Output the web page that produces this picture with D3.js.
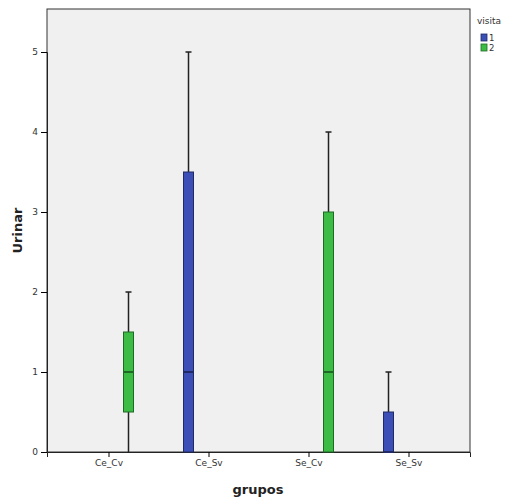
<!DOCTYPE html>
<html>
<head>
<meta charset="utf-8">
<script src="https://cdn.jsdelivr.net/npm/d3@7"></script>
<style>
  body { margin: 0; background: #fff; }
  text { font-family: "DejaVu Sans", sans-serif; }
</style>
</head>
<body>
<div id="chart"></div>
<script>
// groups on the x axis and the visit series
const grupos = ['Ce_Cv', 'Ce_Sv', 'Se_Cv', 'Se_Sv'];
const visitas = ['1', '2'];
const yTicks = [0, 1, 2, 3, 4, 5];

// box stats per group: [min, q1, median, q3, max]
const boxGrupo = ['Ce_Cv', 'Ce_Sv', 'Se_Cv', 'Se_Sv'];
const boxVisita = ['2', '1', '2', '1'];
const boxMin = [0, 0, 0, 0];
const boxQ1 = [0.5, 0, 0, 0];
const boxMed = [1, 1, 1, 0];
const boxQ3 = [1.5, 3.5, 3, 0.5];
const boxMax = [2, 5, 4, 1];

const W = 510, H = 502;
const plot = { left: 47, right: 470, top: 9, bottom: 452 };

const fill = { '1': '#3b4fb6', '2': '#3cbb45' };
const edge = { '1': '#1f2a66', '2': '#1d6a25' };

const svg = d3.select('#chart').append('svg')
  .attr('width', W).attr('height', H);

const x = d3.scalePoint().domain(grupos)
  .range([plot.left, plot.right]).padding(0.615);
const xOff = d3.scalePoint().domain(visitas).range([-20, 20]);
const y = d3.scaleLinear().domain([0, 5]).range([plot.bottom, plot.bottom - 400]);

// plot background
svg.append('rect')
  .attr('x', plot.left).attr('y', plot.top)
  .attr('width', plot.right - plot.left).attr('height', plot.bottom - plot.top)
  .attr('fill', '#f0f0f0').attr('stroke', '#333').attr('stroke-width', 1);

// axes
const yAxis = svg.append('g')
  .attr('transform', `translate(${plot.left},0)`)
  .call(d3.axisLeft(y).tickValues(yTicks).tickFormat(d3.format('d')).tickSize(6).tickPadding(3));
yAxis.select('.domain').attr('stroke', '#222');
yAxis.selectAll('text').attr('font-size', 9).attr('fill', '#333');

const xAxis = svg.append('g')
  .attr('transform', `translate(0,${plot.bottom})`)
  .call(d3.axisBottom(x).tickSize(5).tickPadding(3));
xAxis.select('.domain').attr('stroke', '#222');
xAxis.selectAll('text').attr('font-size', 9).attr('fill', '#333');

// boxes
const boxes = boxGrupo.map((g, i) => ({
  g, v: boxVisita[i], min: boxMin[i], q1: boxQ1[i], med: boxMed[i], q3: boxQ3[i], max: boxMax[i]
}));
const bw = 10;

const bg = svg.append('g').selectAll('g').data(boxes).join('g')
  .attr('transform', d => `translate(${x(d.g) + xOff(d.v)},0)`);

// whiskers
bg.append('line')
  .attr('x1', 0).attr('x2', 0)
  .attr('y1', d => y(d.min)).attr('y2', d => y(d.max))
  .attr('stroke', '#222').attr('stroke-width', 1.5);
bg.append('line')
  .attr('x1', -3).attr('x2', 3)
  .attr('y1', d => y(d.max)).attr('y2', d => y(d.max))
  .attr('stroke', '#222').attr('stroke-width', 1.5);

bg.append('rect')
  .attr('x', -bw / 2).attr('width', bw)
  .attr('y', d => y(d.q3)).attr('height', d => y(d.q1) - y(d.q3))
  .attr('fill', d => fill[d.v]).attr('stroke', d => edge[d.v]).attr('stroke-width', 1);

bg.append('line')
  .attr('x1', -bw / 2).attr('x2', bw / 2)
  .attr('y1', d => y(d.med)).attr('y2', d => y(d.med))
  .attr('stroke', d => edge[d.v]).attr('stroke-width', 2);

// axis titles
svg.append('text')
  .attr('transform', `translate(22,${(plot.top + plot.bottom) / 2}) rotate(-90)`)
  .attr('text-anchor', 'middle')
  .attr('font-size', 13).attr('font-weight', 'bold').attr('fill', '#222')
  .text('Urinar');

svg.append('text')
  .attr('x', 258).attr('y', 494)
  .attr('text-anchor', 'middle')
  .attr('font-size', 13).attr('font-weight', 'bold').attr('fill', '#222')
  .text('grupos');

// legend
const leg = svg.append('g').attr('transform', 'translate(477,0)');
leg.append('text').attr('x', 0).attr('y', 24)
  .attr('font-size', 9).attr('fill', '#333').text('visita');
leg.selectAll('rect').data(visitas).join('rect')
  .attr('x', 4).attr('y', (d, i) => 34 + i * 10)
  .attr('width', 6).attr('height', 7)
  .attr('fill', d => fill[d]).attr('stroke', d => edge[d]).attr('stroke-width', 0.8);
leg.selectAll('.lab').data(visitas).join('text').attr('class', 'lab')
  .attr('x', 12).attr('y', (d, i) => 41 + i * 10)
  .attr('font-size', 8.5).attr('fill', '#333').text(d => d);
</script>
</body>
</html>
